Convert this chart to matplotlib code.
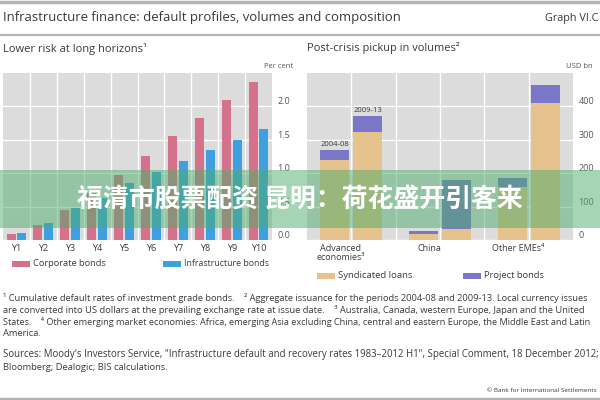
import matplotlib
matplotlib.use('Agg')
import matplotlib.pyplot as plt
from matplotlib.patches import Rectangle
import numpy as np

# ---------------- data ----------------
years = ['Y1', 'Y2', 'Y3', 'Y4', 'Y5', 'Y6', 'Y7', 'Y8', 'Y9', 'Y10']
corporate = [0.09, 0.23, 0.45, 0.70, 0.97, 1.26, 1.55, 1.83, 2.10, 2.36]
infrastructure = [0.10, 0.26, 0.48, 0.63, 0.86, 1.02, 1.18, 1.35, 1.49, 1.66]

regions = ['Advanced\neconomies³', 'China', 'Other EMEs⁴']
periods = ['2004-08', '2009-13']
syndicated_0408 = [240, 17, 160]
project_0408 = [30, 10, 25]
syndicated_0913 = [323, 33, 410]
project_0913 = [47, 148, 53]

left_yticks = [0.0, 0.5, 1.0, 1.5, 2.0]
right_yticks = [0, 100, 200, 300, 400]

title = 'Infrastructure finance: default profiles, volumes and composition'
graph_id = 'Graph VI.C'
left_sub = 'Lower risk at long horizons¹'
right_sub = 'Post-crisis pickup in volumes²'
banner = '福清市股票配资 昆明：荷花盛开引客来'
footnotes = [
    '¹ Cumulative default rates of investment grade bonds.    ² Aggregate issuance for the periods 2004-08 and 2009-13. Local currency issues',
    'are converted into US dollars at the prevailing exchange rate at issue date.    ³ Australia, Canada, western Europe, Japan and the United',
    'States.    ⁴ Other emerging market economies: Africa, emerging Asia excluding China, central and eastern Europe, the Middle East and Latin',
    'America.',
]
sources = [
    'Sources: Moody\'s Investors Service, "Infrastructure default and recovery rates 1983–2012 H1", Special Comment, 18 December 2012;',
    'Bloomberg; Dealogic; BIS calculations.',
]
copyright_txt = '© Bank for International Settlements'

# ---------------- style ----------------
CORP = '#d4718b'
INFRA = '#3fa0e0'
SYND = '#e6c28d'
PROJ = '#7b77c8'
BG = '#dcdcdc'
TXT = '#3a3a3a'
FAM = ['Open Sans', 'DejaVu Sans']
plt.rcParams['font.family'] = FAM

W, H = 600, 400
fig = plt.figure(figsize=(W / 100, H / 100), dpi=100)
fig.patch.set_facecolor('white')

def fx(x):
    return x / W

def fy(y):
    return 1 - y / H

def add_axes_px(x0, y0, x1, y1):
    return fig.add_axes([fx(x0), fy(y1), (x1 - x0) / W, (y1 - y0) / H])

# ---------------- left panel ----------------
axL = add_axes_px(3, 73, 272, 240)
axL.set_facecolor(BG)
xl = np.arange(len(years))
bw = 0.335
axL.bar(xl - 0.2, corporate, bw, color=CORP, zorder=3)
axL.bar(xl + 0.2, infrastructure, bw, color=INFRA, zorder=3)
axL.set_xlim(-0.5, len(years) - 0.5)
axL.set_ylim(0, 2.5)
axL.set_xticks(xl)
axL.set_xticklabels(years)
axL.set_xticks(np.arange(0.5, len(years) - 1, 1.0), minor=True)
axL.set_yticks(left_yticks)
axL.set_yticklabels(['%.1f' % v for v in left_yticks])
axL.yaxis.tick_right()

# ---------------- right panel ----------------
axR = add_axes_px(307, 73, 573, 240)
axR.set_facecolor(BG)
xr = np.arange(len(regions))
bw2 = 0.327
off = 0.186
axR.bar(xr - off, syndicated_0408, bw2, color=SYND, zorder=3)
axR.bar(xr - off, project_0408, bw2, bottom=syndicated_0408, color=PROJ, zorder=3)
axR.bar(xr + off, syndicated_0913, bw2, color=SYND, zorder=3)
axR.bar(xr + off, project_0913, bw2, bottom=syndicated_0913, color=PROJ, zorder=3)
axR.set_xlim(-0.5, len(regions) - 0.5)
axR.set_ylim(0, 500)
axR.set_xticks(xr - 0.12)
axR.set_xticklabels(regions, linespacing=0.95)
axR.set_xticks(np.arange(0, len(regions) - 0.6, 0.5), minor=True)
axR.set_yticks(right_yticks)
axR.set_yticklabels([str(v) for v in right_yticks])
axR.yaxis.tick_right()

tot0 = syndicated_0408[0] + project_0408[0]
tot1 = syndicated_0913[0] + project_0913[0]
axR.annotate(periods[0], (xr[0] - off, tot0), xytext=(0, 1.5), textcoords='offset points',
             ha='center', va='bottom', fontsize=5.5, color=TXT, zorder=5)
axR.annotate(periods[1], (xr[0] + off, tot1), xytext=(0, 1.5), textcoords='offset points',
             ha='center', va='bottom', fontsize=5.5, color=TXT, zorder=5)

for ax in (axL, axR):
    for s in ax.spines.values():
        s.set_visible(False)
    ax.grid(True, axis='y', which='major', color='white', linewidth=1.0, zorder=1)
    ax.grid(True, axis='x', which='minor', color='white', linewidth=1.0, zorder=1)
    ax.grid(False, axis='x', which='major')
    ax.tick_params(axis='both', which='both', length=0)
    ax.tick_params(axis='y', pad=4, labelsize=6.5, labelcolor='#555555')
    ax.tick_params(axis='x', pad=3, labelsize=6.5, labelcolor=TXT)
    for lab in ax.get_yticklabels():
        lab.set_va('bottom')
    ax.set_axisbelow(True)

# ---------------- header / lines ----------------
def hline(y, lw, color):
    fig.add_artist(plt.Line2D([0, 1], [fy(y), fy(y)], color=color, linewidth=lw, zorder=2))

hline(1.5, 2.5, '#b5b5b5')
hline(35, 1.6, '#b5b5b5')
hline(398.5, 2.5, '#b5b5b5')

texts_to_fit = []

def ftext(x, y, s, target=None, ha='left', va='center', size=7, color=TXT, **kw):
    t = fig.text(fx(x), fy(y), s, ha=ha, va=va, fontsize=size, color=color, **kw)
    if target is not None:
        texts_to_fit.append((t, target))
    return t

ftext(3, 18, title, target=400, size=9.5)
ftext(598, 18, graph_id, target=54, size=7.5, ha='right')
ftext(3, 49, left_sub, target=145, size=7)
ftext(307, 48, right_sub, target=151, size=7)
ftext(293, 66, 'Per cent', ha='right', size=5.5, color='#555555')
ftext(593, 66, 'USD bn', ha='right', size=5.5, color='#555555')

# legends
def legend_item(x, y, color, label, target):
    fig.add_artist(Rectangle((fx(x), fy(y + 3)), 18 / W, 6 / H, facecolor=color,
                             edgecolor='none', transform=fig.transFigure, zorder=3))
    ftext(x + 21, y, label, target=target, size=6.5)

legend_item(12, 264, CORP, 'Corporate bonds', 72)
legend_item(163, 264, INFRA, 'Infrastructure bonds', 85)
legend_item(317, 276, SYND, 'Syndicated loans', 74)
legend_item(463, 276, PROJ, 'Project bonds', 60)

# footnotes
fn_fit = []
fn_free = []
fn_y = [298, 310, 322, 334]
for i, (s, y) in enumerate(zip(footnotes, fn_y)):
    t = ftext(3, y, s, size=5.6)
    (fn_fit if i < 3 else fn_free).append(t)
src_y = [355, 367]
for i, (s, y) in enumerate(zip(sources, src_y)):
    t = ftext(3, y, s, size=5.6)
    (fn_fit if i == 0 else fn_free).append(t)
cp = ftext(597, 390, copyright_txt, ha='right', size=4.6)

# banner overlay
fig.add_artist(Rectangle((0, fy(228)), 1, 58 / H, facecolor=(0.30, 0.68, 0.42, 0.5),
                         edgecolor='none', transform=fig.transFigure, zorder=20))
bt = fig.text(0.5, fy(199), banner, ha='center', va='center', fontsize=18, color='white',
              fontweight='bold', family=['Noto Sans CJK SC', 'DejaVu Sans'], zorder=21)
texts_to_fit.append((bt, 446))

for t in fn_fit:
    texts_to_fit.append((t, 588))

r = fig.canvas.get_renderer()
for _ in range(4):
    fig.canvas.draw()
    for t, target in texts_to_fit:
        w = t.get_window_extent(r).width
        if w > 0:
            t.set_fontsize(t.get_fontsize() * target / w)
sizes = [t.get_fontsize() for t in fn_fit]
for t in fn_free:
    t.set_fontsize(float(np.mean(sizes)))

fig.savefig('out.png', dpi=100)
